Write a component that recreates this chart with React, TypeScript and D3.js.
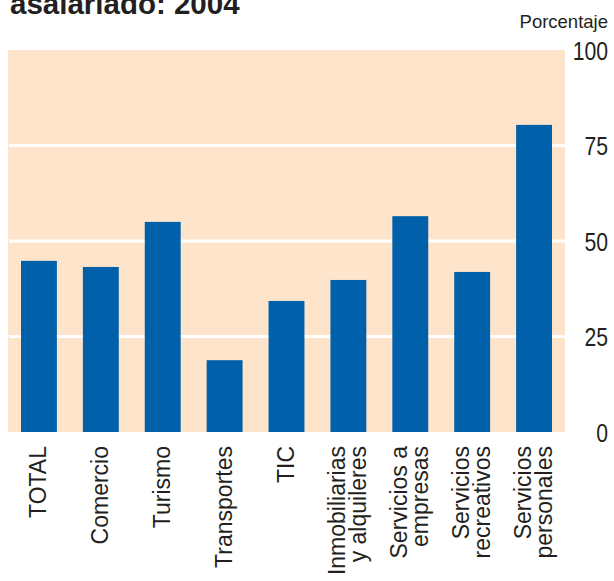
import { useLayoutEffect } from "react";
import * as d3 from "d3";

const CATEGORIES = [
  "TOTAL",
  "Comercio",
  "Turismo",
  "Transportes",
  "TIC",
  "Inmobiliarias\ny alquileres",
  "Servicios a\nempresas",
  "Servicios\nrecreativos",
  "Servicios\npersonales",
];
const VALUES = [44.8, 43.2, 55.0, 18.8, 34.3, 39.8, 56.5, 41.9, 80.4];
const Y_TICKS = [0, 25, 50, 75, 100];
const TITLE = "asalariado: 2004";
const UNIT = "Porcentaje";

const WIDTH = 614;
const HEIGHT = 581;
const plot = { left: 8, right: 565, top: 50, bottom: 432 };

const BAR = "#0061aa";
const BG = "#fde4ca";
const TEXT = "#231f20";

export default function App() {
  useLayoutEffect(() => {
    document.body.style.margin = "0";
  }, []);

  const x = d3
    .scaleBand<number>()
    .domain(d3.range(CATEGORIES.length))
    .range([plot.left, plot.right])
    .paddingInner(0.42)
    .paddingOuter(0.21);
  const y = d3.scaleLinear().domain([0, 100]).range([plot.bottom, plot.top]);

  const labelFont = "'Liberation Sans', Arial, sans-serif";

  return (
    <svg width={WIDTH} height={HEIGHT} style={{ display: "block" }}>
      <text x={10} y={14} fontFamily={labelFont} fontWeight={700} fontSize={29.5} fill={TEXT}>
        {TITLE}
      </text>
      <text x={608} y={28} textAnchor="end" fontFamily={labelFont} fontSize={18.5} fill={TEXT}>
        {UNIT}
      </text>

      <rect
        x={plot.left}
        y={y(100)}
        width={plot.right - plot.left}
        height={y(0) - y(100)}
        fill={BG}
      />
      {Y_TICKS.filter((t) => t > 0 && t < 100).map((t) => (
        <line
          key={t}
          x1={plot.left + 1}
          x2={plot.right}
          y1={y(t)}
          y2={y(t)}
          stroke="#fff"
          strokeWidth={3}
        />
      ))}

      {VALUES.map((v, i) => (
        <rect
          key={i}
          x={x(i)}
          y={y(v)}
          width={x.bandwidth()}
          height={y(0) - y(v)}
          fill={BAR}
        />
      ))}

      {/* tick numbers are a condensed face in the original, so squeeze them */}
      {Y_TICKS.map((t) => (
        <g key={t} transform={`translate(608, ${y(t)}) scale(0.8, 1)`}>
          <text
            dy="0.36em"
            textAnchor="end"
            fontFamily={labelFont}
            fontSize={26.5}
            fill={TEXT}
          >
            {t}
          </text>
        </g>
      ))}

      {CATEGORIES.map((c, i) => {
        const lines = c.split("\n");
        const cx = (x(i) ?? 0) + x.bandwidth() / 2;
        return (
          <g key={c} transform={`translate(${cx}, 446) rotate(-90)`}>
            {lines.map((line, j) => (
              <text
                key={j}
                x={0}
                y={7 + (j - (lines.length - 1) / 2) * 21}
                textAnchor="end"
                fontFamily={labelFont}
                fontSize={23}
                fill={TEXT}
              >
                {line}
              </text>
            ))}
          </g>
        );
      })}
    </svg>
  );
}
